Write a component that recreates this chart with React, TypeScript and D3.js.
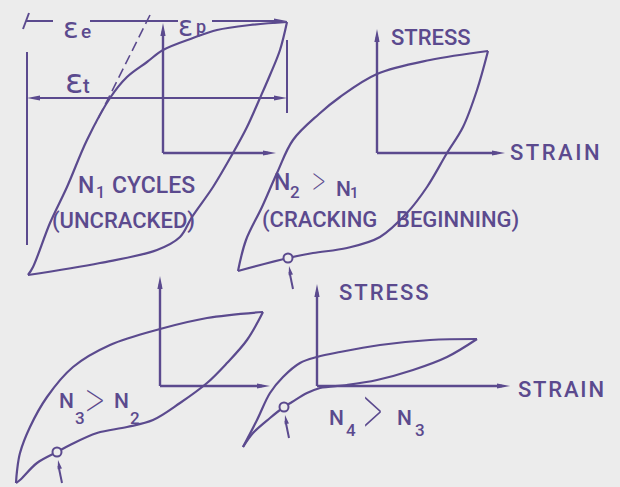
import React from "react";
import * as d3 from "d3";

const INK = "#5b4a8e";
const PAPER = "#ececec";

// each loop is [strain, stress], measured from its own axes' origin
const n1Loading = [
  [-135, -122], [-130, -114], [-113, -70], [-96, -34], [-76, 13], [-53, 55],
  [-36, 76], [-16, 91], [0, 103], [30, 115], [54, 123], [87, 128], [124, 131],
];
const n1Unloading = [
  [124, 131], [117, 103], [107, 78], [97, 55], [84, 26], [70, 0], [50, -34],
  [29, -64], [17, -84], [-6, -97], [-63, -110], [-135, -122],
];

const n2Loading = [
  [-139, -118], [-131, -87], [-115, -54], [-100, -20], [-84, 13], [-58, 39],
  [-37, 56], [0, 79], [53, 93], [111, 102],
];
const n2Unloading = [
  [111, 102], [100, 63], [86, 26], [70, 0], [50, -34], [30, -60], [3, -84],
  [-30, -95], [-64, -100], [-89, -105], [-139, -118],
];

const n3Loading = [
  [-144, -97], [-143, -85], [-140, -67], [-130, -41], [-113, -11], [-87, 19],
  [-50, 41], [0, 57], [47, 68], [103, 74],
];
const n3Unloading = [
  [103, 74], [87, 46], [67, 23], [47, 3], [20, -17], [-7, -34], [-33, -41],
  [-63, -47], [-90, -59], [-103, -66], [-123, -77], [-140, -94], [-144, -97],
];

const n4Loading = [
  [-74, -61], [-60, -34], [-47, -7], [-34, 9], [-17, 23], [0, 29], [23, 34],
  [63, 41], [113, 46], [160, 47],
];
const n4Unloading = [
  [160, 47], [130, 29], [96, 16], [60, 6], [30, 1], [3, -2], [-10, -7],
  [-25, -16], [-33, -21], [-47, -32], [-64, -47], [-74, -61],
];

// first crack location on each loop (null = uncracked)
const crackPoints = [null, [-89, -105], [-103, -66], [-33, -21]];

const panels = [
  { ox: 163, oy: 153, ax: 113, ay: 130, up: n1Loading, down: n1Unloading },
  { ox: 377, oy: 153, ax: 128, ay: 124, up: n2Loading, down: n2Unloading },
  { ox: 160, oy: 386, ax: 110, ay: 110, up: n3Loading, down: n3Unloading },
  { ox: 317, oy: 386, ax: 193, ay: 102, up: n4Loading, down: n4Unloading },
];

const head = (x: number, y: number, dx: number, dy: number, len = 13, w = 2.6) => {
  const px = -dy, py = dx;
  const bx = x - dx * len, by = y - dy * len;
  return `${x},${y} ${bx + px * w},${by + py * w} ${bx - px * w},${by - py * w}`;
};

const font = "Roboto, 'DejaVu Sans', sans-serif";
const greek = "'DejaVu Sans', sans-serif";

const T = ({ x, y, s, children, ls = 0, f = font, w = 500 }: any) => (
  <text x={x} y={y} fontSize={s} fill={INK} fontFamily={f} fontWeight={w} letterSpacing={ls}>
    {children}
  </text>
);

const Chevron = ({ x, y, sx, sy }: any) => (
  <text transform={`translate(${x},${y}) scale(${sx},${sy})`} fontSize={24} fill={INK} fontFamily={font} fontWeight={100}>
    &gt;
  </text>
);

export default function App() {
  const W = 620, H = 487;

  return (
    <svg width={W} height={H} style={{ position: "absolute", left: 0, top: 0, background: PAPER }}>
      <rect width={W} height={H} fill={PAPER} />
      {panels.map((p, i) => {
        const x = d3.scaleLinear().domain([0, 100]).range([p.ox, p.ox + 100]);
        const y = d3.scaleLinear().domain([0, 100]).range([p.oy, p.oy - 100]);
        const line = d3
          .line<number[]>()
          .x((d) => x(d[0]))
          .y((d) => y(d[1]))
          .curve(d3.curveCatmullRom.alpha(0.5));
        const c = crackPoints[i];
        return (
          <g key={i}>
            <line x1={x(0)} y1={y(0)} x2={x(p.ax) - 8} y2={y(0)} stroke={INK} strokeWidth={2.4} />
            <polygon points={head(x(p.ax), y(0), 1, 0)} fill={INK} />
            <line x1={x(0)} y1={y(0)} x2={x(0)} y2={y(p.ay) + 8} stroke={INK} strokeWidth={2.4} />
            <polygon points={head(x(0), y(p.ay), 0, -1)} fill={INK} />
            <path d={line(p.up) || ""} fill="none" stroke={INK} strokeWidth={2.2} strokeLinejoin="round" />
            <path d={line(p.down) || ""} fill="none" stroke={INK} strokeWidth={2.2} strokeLinejoin="round" />
            {c && (
              <g>
                <circle cx={x(c[0])} cy={y(c[1])} r={4.5} fill={PAPER} stroke={INK} strokeWidth={2} />
                <line x1={x(c[0]) + 5} y1={y(c[1]) + 31} x2={x(c[0]) + 1.5} y2={y(c[1]) + 14} stroke={INK} strokeWidth={2} />
                <polygon points={head(x(c[0]) + 1, y(c[1]) + 8, -0.2, -0.98, 9, 2.2)} fill={INK} />
              </g>
            )}
          </g>
        );
      })}

      {/* strain dimensions on the first loop */}
      <g stroke={INK} strokeWidth={2}>
        <line x1={23} y1={29} x2={29} y2={13} />
        <line x1={26} y1={21} x2={53} y2={21} />
        <line x1={90} y1={21} x2={178} y2={21} />
        <line x1={212} y1={21} x2={276} y2={21} />
        <line x1={150} y1={15} x2={96} y2={123} strokeDasharray="10 5" strokeWidth={1.6} />
        <line x1={38} y1={98} x2={276} y2={98} />
        <line x1={27} y1={52} x2={27} y2={245} />
        <line x1={287} y1={40} x2={287} y2={113} />
      </g>
      <polygon points={head(287, 21, 1, 0)} fill={INK} />
      <polygon points={head(27, 98, -1, 0)} fill={INK} />
      <polygon points={head(287, 98, 1, 0)} fill={INK} />

      <T x={63} y={38} s={29} f={greek} w={400}>ε</T>
      <T x={81} y={38} s={19}>e</T>
      <T x={178} y={36} s={28} f={greek} w={400}>ε</T>
      <T x={196} y={33} s={18}>p</T>
      <T x={65} y={93} s={34} f={greek} w={400}>ε</T>
      <T x={83} y={93} s={20}>t</T>

      <T x={78} y={193} s={23}>N</T>
      <T x={96} y={198} s={16}>1</T>
      <T x={112} y={193} s={23}>CYCLES</T>
      <T x={52} y={228} s={22}>(UNCRACKED)</T>

      <T x={274} y={190} s={23}>N</T>
      <T x={290} y={198} s={17}>2</T>
      <Chevron x={312} y={195} sx={1.1} sy={1.8} />
      <T x={336} y={196} s={21}>N</T>
      <T x={350} y={198} s={15}>1</T>
      <T x={262} y={227} s={22}>(CRACKING</T>
      <T x={396} y={227} s={22}>BEGINNING)</T>

      <T x={391} y={45} s={22}>STRESS</T>
      <T x={510} y={160} s={22} ls={2.5}>STRAIN</T>

      <T x={59} y={408} s={21}>N</T>
      <T x={75} y={424} s={17}>3</T>
      <Chevron x={85} y={419} sx={1.6} sy={2.3} />
      <T x={114} y={408} s={21}>N</T>
      <T x={130} y={424} s={17}>2</T>

      <T x={329} y={425} s={21}>N</T>
      <T x={346} y={436} s={17}>4</T>
      <Chevron x={363} y={436} sx={1.6} sy={3.2} />
      <T x={397} y={425} s={21}>N</T>
      <T x={415} y={436} s={17}>3</T>

      <T x={339} y={300} s={22} ls={2}>STRESS</T>
      <T x={518} y={397} s={22} ls={1.8}>STRAIN</T>
    </svg>
  );
}
